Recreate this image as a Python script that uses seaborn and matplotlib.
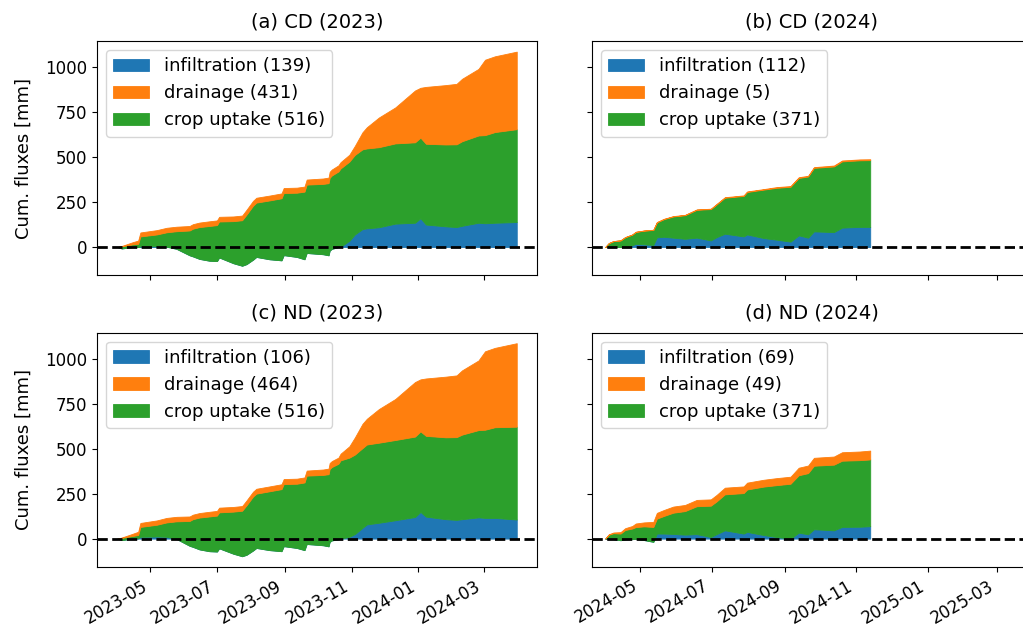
import numpy as np
import pandas as pd
import matplotlib
matplotlib.use("Agg")
import matplotlib.pyplot as plt
import matplotlib.dates as mdates
import seaborn as sns

# ---------------- data (cumulative fluxes, mm) ----------------
dates_2023 = ["2023-04-01", "2023-04-05", "2023-04-15", "2023-04-20", "2023-04-22",
              "2023-05-07", "2023-05-16", "2023-05-25", "2023-06-06", "2023-06-09",
              "2023-06-15", "2023-06-24", "2023-07-01", "2023-07-03", "2023-07-16",
              "2023-07-24", "2023-07-28", "2023-08-03", "2023-08-06", "2023-08-18",
              "2023-08-29", "2023-08-31", "2023-09-12", "2023-09-19", "2023-09-21",
              "2023-10-06", "2023-10-11", "2023-10-12", "2023-10-14", "2023-10-20",
              "2023-10-22", "2023-10-30", "2023-11-04", "2023-11-11", "2023-11-15",
              "2023-11-26", "2023-12-11", "2023-12-29", "2024-01-03", "2024-01-08",
              "2024-01-26", "2024-02-05", "2024-02-10", "2024-02-25", "2024-03-02",
              "2024-03-11", "2024-03-31"]

uptake_2023 = [0, 12, 15, 18, 55, 65, 80, 98, 138, 154, 177, 193, 200, 200, 234,
               253, 275, 300, 302, 327, 345, 345, 357, 376, 380, 391, 401, 405, 408, 420,
               435, 440, 442, 443, 444, 445, 446, 447, 448, 449, 455, 460, 470, 485, 490,
               504, 516]

infil_cd_2023 = [0, -8, 0, 0, 4, 5, 2, -10, -46, -52, -66, -76, -78, -58, -90,
                 -104, -95, -70, -55, -68, -74, -45, -55, -68, -33, -40, -46, -20, -10, 0,
                 2, 35, 70, 100, 104, 110, 130, 135, 160, 125, 115, 111, 118, 135, 132,
                 135, 139]

drain_cd_2023 = [0, 2, 12, 18, 22, 24, 25, 25, 25, 25, 25, 26, 26, 26, 26,
                 26, 27, 27, 27, 27, 27, 28, 28, 28, 28, 30, 31, 33, 33, 34,
                 35, 38, 50, 95, 118, 165, 200, 288, 277, 316, 330, 336, 347, 370, 419,
                 421, 431]

infil_nd_2023 = [0, -8, 0, 2, 10, 12, 10, -2, -40, -46, -60, -70, -72, -54, -84,
                 -98, -90, -66, -52, -64, -70, -42, -52, -64, -30, -37, -43, -18, -10, -4,
                 0, 10, 25, 60, 79, 88, 102, 120, 148, 122, 108, 104, 108, 118, 115,
                 115, 106]

drain_nd_2023 = [0, 2, 12, 18, 22, 24, 25, 25, 25, 25, 25, 26, 26, 26, 26,
                 26, 27, 27, 27, 27, 27, 28, 28, 28, 28, 30, 31, 33, 33, 34,
                 37, 63, 95, 135, 143, 187, 228, 303, 289, 319, 337, 343, 357, 387, 436,
                 441, 464]

dates_2024 = ["2024-04-01", "2024-04-04", "2024-04-08", "2024-04-14", "2024-04-18",
              "2024-04-24", "2024-04-27", "2024-05-04", "2024-05-12", "2024-05-15",
              "2024-05-21", "2024-05-29", "2024-06-08", "2024-06-18", "2024-06-30",
              "2024-07-05", "2024-07-12", "2024-07-28", "2024-07-31", "2024-08-14",
              "2024-08-25", "2024-09-06", "2024-09-13", "2024-09-21", "2024-09-26",
              "2024-10-13", "2024-10-20", "2024-11-04", "2024-11-13"]

uptake_2024 = [0, 22, 33, 37, 53, 59, 66, 76, 83, 83, 98, 118, 131, 155, 174,
               182, 200, 225, 236, 269, 288, 305, 319, 340, 353, 365, 368, 370, 371]

infil_cd_2024 = [0, 0, 0, 0, 2, 10, 18, 15, 12, 54, 57, 52, 46, 52, 37,
                 55, 74, 59, 70, 50, 41, 30, 65, 52, 87, 83, 108, 112, 112]

drain_cd_2024 = [0, 0, 0, 0, 0, 1, 1, 1, 1, 2, 2, 2, 2, 2, 2,
                 3, 3, 3, 3, 3, 4, 4, 4, 4, 4, 5, 5, 5, 5]

infil_nd_2024 = [0, 0, -3, -9, -5, -3, -2, -8, -18, 28, 28, 26, 22, 25, 9,
                 25, 46, 28, 37, 20, 9, 0, 33, 24, 52, 46, 65, 66, 69]

drain_nd_2024 = [0, 2, 4, 8, 10, 14, 20, 22, 28, 32, 33, 34, 34, 35, 35,
                 36, 37, 37, 38, 38, 39, 39, 42, 42, 44, 45, 47, 48, 49]

titles = ["(a) CD (2023)", "(b) CD (2024)", "(c) ND (2023)", "(d) ND (2024)"]
series_names = ["infiltration", "drainage", "crop uptake"]
ylabel_text = "Cum. fluxes [mm]"

# ---------------- style ----------------
sns.set_style("ticks", rc={
    "axes.edgecolor": "black", "text.color": "black", "axes.labelcolor": "black",
    "xtick.color": "black", "ytick.color": "black",
    "xtick.major.size": 5, "ytick.major.size": 5,
    "xtick.major.width": 0.9, "ytick.major.width": 0.9, "axes.linewidth": 0.9,
})
plt.rcParams["font.family"] = ["DejaVu Sans"]
palette = sns.color_palette("tab10")
c_inf, c_drn, c_upt = palette[0], palette[1], palette[2]

fig, axes = plt.subplots(2, 2, figsize=(10.23, 6.32), dpi=100,
                         sharey=True, sharex="col")
fig.subplots_adjust(left=0.0948, right=1.0088, bottom=0.1028, top=0.9351,
                    wspace=0.125, hspace=0.2436)

panels = [
    (axes[0, 0], dates_2023, infil_cd_2023, uptake_2023, drain_cd_2023, titles[0]),
    (axes[0, 1], dates_2024, infil_cd_2024, uptake_2024, drain_cd_2024, titles[1]),
    (axes[1, 0], dates_2023, infil_nd_2023, uptake_2023, drain_nd_2023, titles[2]),
    (axes[1, 1], dates_2024, infil_nd_2024, uptake_2024, drain_nd_2024, titles[3]),
]

for ax, d, inf, upt, drn, title in panels:
    x = pd.to_datetime(d)
    polys = ax.stackplot(x, inf, upt, drn, colors=[c_inf, c_upt, c_drn],
                         edgecolor="face", linewidth=0.6)
    ax.axhline(0, color="k", ls="--", lw=2)
    labels = [f"{series_names[0]} ({inf[-1]})",
              f"{series_names[1]} ({drn[-1]})",
              f"{series_names[2]} ({upt[-1]})"]
    ax.legend([polys[0], polys[2], polys[1]], labels, loc="upper left", fontsize=13)
    ax.set_title(title, fontsize=14, pad=10)
    ax.tick_params(labelsize=12)

axes[0, 0].set_ylim(-158, 1145)
axes[0, 0].set_yticks([0, 250, 500, 750, 1000])
axes[0, 0].set_ylabel(ylabel_text, fontsize=13, labelpad=9)
axes[1, 0].set_ylabel(ylabel_text, fontsize=13, labelpad=9)

axes[0, 0].set_xlim(pd.Timestamp("2023-03-13 08:00"), pd.Timestamp("2024-04-18 12:00"))
axes[0, 1].set_xlim(pd.Timestamp("2024-03-20 16:00"), pd.Timestamp("2025-03-31"))

for ax in axes[1, :]:
    ax.xaxis.set_major_locator(mdates.MonthLocator(bymonth=[1, 3, 5, 7, 9, 11]))
    ax.xaxis.set_major_formatter(mdates.DateFormatter("%Y-%m"))
    for lab in ax.get_xticklabels():
        lab.set_rotation(30)
        lab.set_ha("right")

fig.savefig("out.png", dpi=100)
